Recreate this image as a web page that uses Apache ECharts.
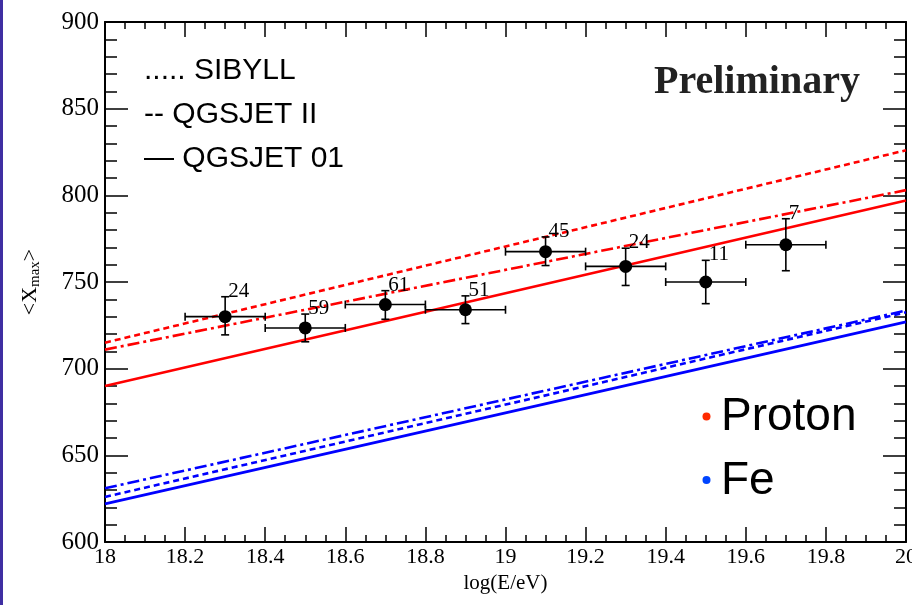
<!DOCTYPE html>
<html>
<head>
<meta charset="utf-8">
<script src="https://cdn.jsdelivr.net/npm/echarts@6/dist/echarts.min.js"></script>
<style>
html,body{margin:0;padding:0;background:#fff;}
#chart{width:912px;height:605px;}
</style>
</head>
<body>
<div id="chart"></div>
<script>
// ---- data ----
const energies = [18.3, 18.5, 18.7, 18.9, 19.1, 19.3, 19.5, 19.7];
const energyHalfWidth = [0.1, 0.1, 0.1, 0.1, 0.1, 0.1, 0.1, 0.1];
const xmaxMean = [730, 723.5, 737, 734, 767.5, 759, 750, 771.5];
const xmaxErrUp = [11.5, 8, 8, 8, 8.5, 10.5, 12.5, 15];
const xmaxErrDown = [10.5, 8, 8.5, 8, 8, 11, 12.5, 15];
const eventCounts = ['24', '59', '61', '51', '45', '24', '11', '7'];

const modelEnergy = [18, 20];
const protonSibyll = [715, 826];
const protonQgsjetII = [711, 803];
const protonQgsjet01 = [690, 797];
const feSibyll = [626, 732.5];
const feQgsjetII = [631, 733.5];
const feQgsjet01 = [622, 727];

const xTicks = ['18', '18.2', '18.4', '18.6', '18.8', '19', '19.2', '19.4', '19.6', '19.8', '20'];
const legendLabels = ['..... SIBYLL', '-- QGSJET II', '— QGSJET 01'];

// ---- chart ----
const serif = '"Liberation Serif", "DejaVu Serif", serif';
const sans = '"Liberation Sans", "Noto Sans", sans-serif';

function pairs(ys) { return modelEnergy.map((x, i) => [x, ys[i]]); }
function modelLine(name, ys, color, type) {
  return {
    name: name, type: 'line', data: pairs(ys), symbol: 'none', silent: true,
    lineStyle: { color: color, width: 2.6, type: type }, z: 3
  };
}
const DASH = [6, 4];
const DASHDOT = [12, 4, 3, 4];

const points = energies.map((e, i) => [e, xmaxMean[i], energyHalfWidth[i], xmaxErrUp[i], xmaxErrDown[i]]);

const chart = echarts.init(document.getElementById('chart'), null, { renderer: 'canvas' });
const axisLineStyle = { color: '#000', width: 2 };
chart.setOption({
  animation: false,
  backgroundColor: '#fff',
  grid: { left: 105, right: 6, top: 22, bottom: 63, show: false, containLabel: false, outerBoundsMode: 'none' },
  xAxis: [{
    type: 'value', min: 18, max: 20, interval: 0.2,
    name: 'log(E/eV)', nameLocation: 'middle', nameGap: 30,
    nameTextStyle: { fontFamily: serif, fontSize: 21, color: '#000', verticalAlign: 'top' },
    axisLine: { show: true, onZero: false, lineStyle: axisLineStyle },
    axisTick: { show: true, inside: true, length: 15, lineStyle: { color: '#000', width: 1.5 } },
    minorTick: { show: true, splitNumber: 4, length: 7, lineStyle: { color: '#000', width: 1.5 } },
    axisLabel: { fontFamily: serif, fontSize: 22, color: '#000', margin: 4, hideOverlap: false,
      formatter: (v) => { const k = Math.round((v - 18) / 0.2); return xTicks[k] !== undefined ? xTicks[k] : ''; } },
    splitLine: { show: false }
  }, {
    type: 'value', min: 18, max: 20, interval: 0.2, position: 'top',
    axisLine: { show: true, onZero: false, lineStyle: axisLineStyle },
    axisTick: { show: true, inside: true, length: 15, lineStyle: { color: '#000', width: 1.5 } },
    minorTick: { show: true, splitNumber: 4, length: 7, lineStyle: { color: '#000', width: 1.5 } },
    axisLabel: { show: false }, splitLine: { show: false }
  }],
  yAxis: [{
    type: 'value', min: 600, max: 900, interval: 50,
    name: '<X{sub|max}>', nameLocation: 'middle', nameGap: 62, nameRotate: 90,
    nameTextStyle: { fontFamily: serif, fontSize: 22, color: '#000',
      rich: { sub: { fontFamily: serif, fontSize: 15, color: '#000', padding: [10, 0, 0, 0] } } },
    axisLine: { show: true, onZero: false, lineStyle: axisLineStyle },
    axisTick: { show: true, inside: true, length: 23, lineStyle: { color: '#000', width: 1.5 } },
    minorTick: { show: true, splitNumber: 5, length: 12, lineStyle: { color: '#000', width: 1.5 } },
    axisLabel: { fontFamily: serif, fontSize: 25, color: '#000', margin: 6 },
    splitLine: { show: false }
  }, {
    type: 'value', min: 600, max: 900, interval: 50, position: 'right',
    axisLine: { show: true, onZero: false, lineStyle: axisLineStyle },
    axisTick: { show: true, inside: true, length: 23, lineStyle: { color: '#000', width: 1.5 } },
    minorTick: { show: true, splitNumber: 5, length: 12, lineStyle: { color: '#000', width: 1.5 } },
    axisLabel: { show: false }, splitLine: { show: false }
  }],
  series: [
    modelLine('Proton SIBYLL', protonSibyll, '#ff0000', DASH),
    modelLine('Proton QGSJET II', protonQgsjetII, '#ff0000', DASHDOT),
    modelLine('Proton QGSJET 01', protonQgsjet01, '#ff0000', 'solid'),
    modelLine('Fe SIBYLL', feSibyll, '#0000ff', DASH),
    modelLine('Fe QGSJET II', feQgsjetII, '#0000ff', DASHDOT),
    modelLine('Fe QGSJET 01', feQgsjet01, '#0000ff', 'solid'),
    {
      name: 'Data', type: 'custom', data: points, z: 5, silent: true,
      renderItem: function (params, api) {
        const x = api.value(0), y = api.value(1), xe = api.value(2), yu = api.value(3), yd = api.value(4);
        const c = api.coord([x, y]);
        const l = api.coord([x - xe, y]);
        const r = api.coord([x + xe, y]);
        const t = api.coord([x, y + yu]);
        const b = api.coord([x, y - yd]);
        const ls = { stroke: '#000', lineWidth: 1.6 };
        const cap = 4;
        const seg = (x1, y1, x2, y2) => ({ type: 'line', shape: { x1: x1, y1: y1, x2: x2, y2: y2 }, style: ls });
        return {
          type: 'group',
          children: [
            seg(l[0], l[1], r[0], r[1]),
            seg(t[0], t[1], b[0], b[1]),
            seg(l[0], l[1] - cap, l[0], l[1] + cap),
            seg(r[0], r[1] - cap, r[0], r[1] + cap),
            seg(t[0] - cap, t[1], t[0] + cap, t[1]),
            seg(b[0] - cap, b[1], b[0] + cap, b[1]),
            { type: 'circle', shape: { cx: c[0], cy: c[1], r: 6.5 }, style: { fill: '#000' } },
            { type: 'text', style: { text: eventCounts[params.dataIndex], x: t[0] + 3, y: t[1] + 5,
                verticalAlign: 'bottom', align: 'left', fontFamily: serif, fontSize: 21, fill: '#000' } }
          ]
        };
      }
    }
  ],
  graphic: [
    { type: 'rect', left: 0, top: 0, shape: { width: 3, height: 605 }, style: { fill: '#3f2fa2' } },
    { type: 'text', left: 144, top: 56, style: { text: legendLabels[0], fontFamily: sans, fontSize: 30, fill: '#000' } },
    { type: 'text', left: 144, top: 100, style: { text: legendLabels[1], fontFamily: sans, fontSize: 30, fill: '#000' } },
    { type: 'text', left: 144, top: 144, style: { text: legendLabels[2], fontFamily: sans, fontSize: 30, fill: '#000' } },
    { type: 'text', left: 654, top: 63, style: { text: 'Preliminary', fontFamily: serif, fontWeight: 'bold', fontSize: 40, fill: '#222' } },
    { type: 'circle', shape: { cx: 706.5, cy: 416.5, r: 4 }, style: { fill: '#ff2a00' } },
    { type: 'text', left: 721, top: 394, style: { text: 'Proton', fontFamily: sans, fontSize: 46, fill: '#000' } },
    { type: 'circle', shape: { cx: 706.5, cy: 480, r: 4 }, style: { fill: '#0044ff' } },
    { type: 'text', left: 721, top: 458, style: { text: 'Fe', fontFamily: sans, fontSize: 46, fill: '#000' } }
  ]
});
</script>
</body>
</html>
